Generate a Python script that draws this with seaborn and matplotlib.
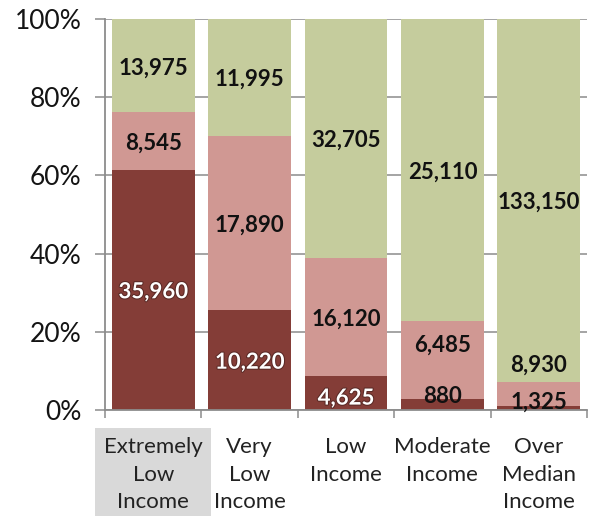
import matplotlib
matplotlib.use("Agg")
import matplotlib.pyplot as plt
import matplotlib.patheffects as pe
from matplotlib.ticker import FuncFormatter, FixedLocator
import numpy as np
import pandas as pd
import seaborn as sns

categories = ["Extremely\nLow\nIncome", "Very\nLow\nIncome", "Low\nIncome",
              "Moderate\nIncome", "Over\nMedian\nIncome"]
bottom_vals = [35960, 10220, 4625, 880, 1325]
middle_vals = [8545, 17890, 16120, 6485, 8930]
top_vals = [13975, 11995, 32705, 25110, 133150]
y_ticks = [0, 20, 40, 60, 80, 100]

c_dark = "#843D37"
c_pink = "#D09893"
c_green = "#C5CC9D"

sns.set_theme(style="white")
plt.rcParams["font.family"] = ["Lato", "DejaVu Sans"]

b = np.array(bottom_vals, float)
m = np.array(middle_vals, float)
t = np.array(top_vals, float)
tot = b + m + t
pb, pm, pt = b / tot * 100, m / tot * 100, t / tot * 100
df = pd.DataFrame({"cat": categories, "cum3": pb + pm + pt, "cum2": pb + pm, "cum1": pb})

fig = plt.figure(figsize=(5.92, 5.16), dpi=100)
ax = fig.add_axes([0.1774, 0.2054, 0.8142, 0.7578])

for col, c in [("cum3", c_green), ("cum2", c_pink), ("cum1", c_dark)]:
    sns.barplot(data=df, x="cat", y=col, color=c, saturation=1, width=0.86,
                edgecolor="none", linewidth=0, ax=ax, zorder=2)

ax.set_ylim(0, 100)
ax.set_xlim(-0.5, len(categories) - 0.5)
ax.set_yticks(y_ticks)
ax.yaxis.set_major_formatter(FuncFormatter(lambda v, p: f"{int(v)}%"))
ax.grid(axis="y", color="#8C8C8C", linewidth=1.1, zorder=0)
ax.set_axisbelow(True)
ax.set_xlabel("")
ax.set_ylabel("")
for s in ["top", "right"]:
    ax.spines[s].set_visible(False)
for s in ["left", "bottom"]:
    ax.spines[s].set_color("#8C8C8C")
    ax.spines[s].set_linewidth(1.3)
    ax.spines[s].set_zorder(3)

ax.tick_params(axis="y", length=7, width=1.1, color="#8C8C8C", pad=10,
               labelsize=19, labelcolor="#141414", left=True)
ax.tick_params(axis="x", which="major", length=0, pad=19.5, labelsize=16,
               labelcolor="#222222")
ax.xaxis.set_minor_locator(FixedLocator(np.arange(-0.5, len(categories), 1.0)))
ax.tick_params(axis="x", which="minor", length=6, width=1.1, color="#8C8C8C",
               bottom=True)
ax.set_xticks(range(len(categories)))
ax.set_xticklabels(categories, linespacing=1.47)
lbl0 = ax.get_xticklabels()[0]
lbl0.set_bbox(dict(facecolor="#D9D9D9", edgecolor="none", boxstyle="square,pad=0.4"))

# labels
nudge_mid = [0, 0, 0, 17, 31]
nudge_bot = [0, 0, -3, 10, 8]
white_bottom = [True, True, True, False, False]
fs = 16
for i in range(len(categories)):
    ax.annotate(f"{top_vals[i]:,}", (i, pb[i] + pm[i] + pt[i] / 2), ha="center",
                va="center_baseline", fontsize=fs, fontweight="bold", color="#111111",
                zorder=5)
    ax.annotate(f"{middle_vals[i]:,}", (i, pb[i] + pm[i] / 2), xytext=(0, nudge_mid[i]),
                textcoords="offset pixels", ha="center", va="center_baseline",
                fontsize=fs, fontweight="bold", color="#111111", zorder=5)
    if white_bottom[i]:
        txt = ax.annotate(f"{bottom_vals[i]:,}", (i, pb[i] / 2), xytext=(0, nudge_bot[i]),
                          textcoords="offset pixels", ha="center", va="center_baseline",
                          fontsize=fs, fontweight="bold", color="white", zorder=5)
        txt.set_path_effects([pe.withStroke(linewidth=1.5, foreground="#5a2a26")])
    else:
        ax.annotate(f"{bottom_vals[i]:,}", (i, pb[i] / 2), xytext=(0, nudge_bot[i]),
                    textcoords="offset pixels", ha="center", va="center_baseline",
                    fontsize=fs, fontweight="bold", color="#111111", zorder=5)

fig.savefig("out.png", dpi=100)
